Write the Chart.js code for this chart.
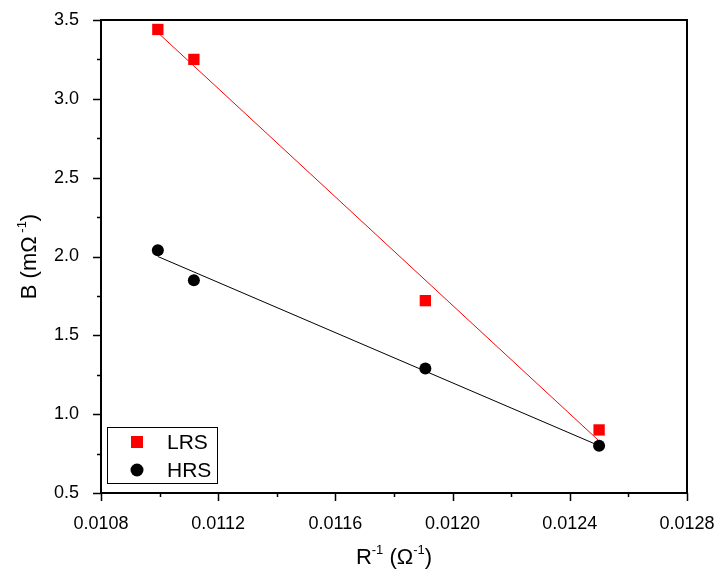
<!DOCTYPE html>
<html>
<head>
<meta charset="utf-8">
<script src="https://cdn.jsdelivr.net/npm/chart.js@4"></script>
<style>
  html, body { margin: 0; padding: 0; background: #fff; }
  #wrap { width: 720px; height: 574px; }
</style>
</head>
<body>
<div id="wrap"><canvas id="chart" width="720" height="574"></canvas></div>
<script>
// values
const rInv = [0.010994, 0.011117, 0.011907, 0.0125];
const lrsB = [3.44, 3.25, 1.72, 0.90];
const hrsB = [2.04, 1.85, 1.29, 0.80];
// linear fit end points (at first and last R^-1)
const fitX = [0.010994, 0.0125];
const lrsFit = [3.42, 0.83];
const hrsFit = [2.00, 0.80];
const xTicks = [0.0108, 0.0112, 0.0116, 0.0120, 0.0124, 0.0128];
const yTicks = [0.5, 1.0, 1.5, 2.0, 2.5, 3.0, 3.5];

const pts = (xs, ys) => xs.map((x, i) => ({ x: x, y: ys[i] }));
const FONT = "'Liberation Sans', Arial, sans-serif";

// axis frame, minor ticks, titles and legend
const framePlugin = {
  id: 'frame',
  afterDraw(chart) {
    const { ctx, chartArea: a, scales } = chart;
    const xs = scales.x, ys = scales.y;
    ctx.save();
    ctx.strokeStyle = '#000';
    ctx.lineWidth = 2;
    ctx.strokeRect(a.left, a.top, a.right - a.left, a.bottom - a.top);
    // major + minor ticks, outward
    ctx.lineWidth = 1.5;
    ctx.beginPath();
    for (let v = 0.0108; v <= 0.01281; v += 0.0002) {
      const px = Math.round(xs.getPixelForValue(v)) + 0.5;
      const major = Math.abs(Math.round(v / 0.0004) * 0.0004 - v) < 1e-7;
      ctx.moveTo(px, a.bottom);
      ctx.lineTo(px, a.bottom + (major ? 8 : 4));
    }
    for (let v = 0.5; v <= 3.501; v += 0.25) {
      const py = Math.round(ys.getPixelForValue(v)) + 0.5;
      const major = Math.abs(Math.round(v * 2) / 2 - v) < 1e-6;
      ctx.moveTo(a.left, py);
      ctx.lineTo(a.left - (major ? 8 : 4), py);
    }
    ctx.stroke();

    // x title: R^-1 (Ω^-1)
    ctx.fillStyle = '#000';
    ctx.textBaseline = 'alphabetic';
    const big = '22px ' + FONT, sup = '13px ' + FONT;
    const drawParts = (parts, cx, cy) => {
      let w = 0;
      parts.forEach(p => { ctx.font = p[1]; w += ctx.measureText(p[0]).width; });
      let x = cx - w / 2;
      ctx.textAlign = 'left';
      parts.forEach(p => { ctx.font = p[1]; ctx.fillText(p[0], x, cy + p[2]); x += ctx.measureText(p[0]).width; });
    };
    drawParts([['R', big, 0], ['-1', sup, -10], [' (Ω', big, 0], ['-1', sup, -10], [')', big, 0]],
      (a.left + a.right) / 2, 564);
    // y title: B (mΩ^-1)
    ctx.save();
    ctx.translate(36, (a.top + a.bottom) / 2);
    ctx.rotate(-Math.PI / 2);
    drawParts([['B (mΩ', big, 0], [' -1', sup, -10], [')', big, 0]], 0, 0);
    ctx.restore();

    // legend box
    ctx.lineWidth = 1;
    ctx.strokeRect(107.5, 427.5, 110, 56);
    ctx.fillStyle = '#ff0000';
    ctx.fillRect(131, 436, 12, 12);
    ctx.fillStyle = '#000';
    ctx.beginPath();
    ctx.arc(137, 470, 6.5, 0, Math.PI * 2);
    ctx.fill();
    ctx.font = '21px ' + FONT;
    ctx.textBaseline = 'middle';
    ctx.fillText('LRS', 167, 443);
    ctx.fillText('HRS', 167, 471);
    ctx.restore();
  }
};

new Chart(document.getElementById('chart'), {
  type: 'scatter',
  data: {
    datasets: [
      { label: 'LRS fit', data: pts(fitX, lrsFit), showLine: true, borderColor: '#ff0000', borderWidth: 1, pointRadius: 0, order: 3 },
      { label: 'HRS fit', data: pts(fitX, hrsFit), showLine: true, borderColor: '#000000', borderWidth: 1, pointRadius: 0, order: 4 },
      { label: 'LRS', data: pts(rInv, lrsB), pointStyle: 'rect', pointRadius: 8, backgroundColor: '#ff0000', borderColor: '#ff0000', borderWidth: 0, order: 1 },
      { label: 'HRS', data: pts(rInv, hrsB), pointStyle: 'circle', pointRadius: 6, backgroundColor: '#000000', borderColor: '#000000', borderWidth: 0, order: 2 }
    ]
  },
  options: {
    responsive: false,
    animation: false,
    layout: { padding: { left: 0, top: 20, right: 33, bottom: 0 } },
    plugins: { legend: { display: false }, tooltip: { enabled: false } },
    scales: {
      x: {
        type: 'linear', min: 0.0108, max: 0.0128,
        afterBuildTicks: s => { s.ticks = xTicks.map(v => ({ value: v })); },
        afterFit: s => { s.height = 81; s.paddingLeft = 0; s.paddingRight = 0; },
        grid: { display: false },
        border: { display: false },
        ticks: { color: '#000', font: { family: FONT, size: 18 }, padding: 12, maxRotation: 0,
          callback: v => v.toFixed(4) }
      },
      y: {
        type: 'linear', min: 0.5, max: 3.5,
        afterBuildTicks: s => { s.ticks = yTicks.map(v => ({ value: v })); },
        afterFit: s => { s.width = 101; s.paddingTop = 0; s.paddingBottom = 0; },
        grid: { display: false },
        border: { display: false },
        ticks: { color: '#000', font: { family: FONT, size: 18 }, padding: 14,
          callback: v => v.toFixed(1) }
      }
    }
  },
  plugins: [framePlugin]
});
</script>
</body>
</html>
